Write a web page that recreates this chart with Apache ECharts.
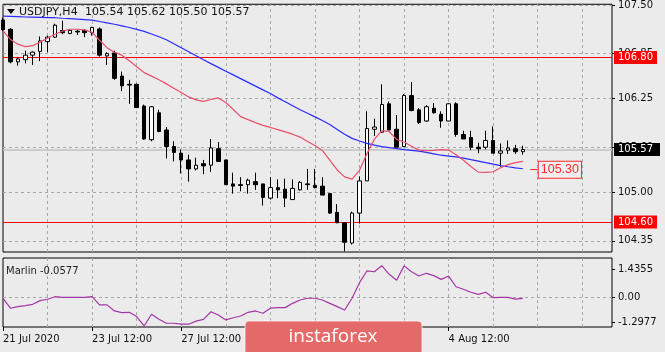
<!DOCTYPE html>
<html><head><meta charset="utf-8">
<script src="https://cdn.jsdelivr.net/npm/echarts@6/dist/echarts.min.js"></script>
<style>html,body{margin:0;padding:0;background:#ebebeb}#c{width:665px;height:352px}</style>
</head><body><div id="c"></div>
<script>
// H4 bars, 21 Jul 2020 12:00 onward
const opens  = [107.30,107.175,106.74,106.77,106.83,106.88,107.01,107.07,107.16,107.12,107.15,107.16,107.13,107.18,106.82,106.86,106.55,106.44,106.44,106.15,105.70,106.06,105.83,105.61,105.52,105.43,105.31,105.38,105.36,105.58,105.43,105.11,105.10,105.10,105.14,105.11,104.92,105.06,105.04,104.90,105.03,105.11,105.09,105.08,104.98,104.73,104.59,104.32,104.72,105.15,105.84,105.80,106.18,105.84,105.61,106.29,106.10,105.95,106.12,106.04,105.95,106.18,105.77,105.73,105.60,105.60,105.69,105.52,105.56,105.58,105.54];
const highs  = [107.33,107.19,106.80,106.89,106.88,107.08,107.09,107.25,107.29,107.17,107.17,107.18,107.21,107.20,106.87,106.89,106.61,106.50,106.45,106.17,106.15,106.10,105.87,105.68,105.57,105.50,105.46,105.43,105.71,105.67,105.43,105.26,105.20,105.18,105.26,105.11,105.20,105.17,105.18,105.17,105.15,105.31,105.31,105.20,104.98,104.84,104.59,104.74,105.21,106.08,105.98,106.44,106.21,106.03,106.31,106.47,106.12,106.16,106.19,106.08,106.19,106.20,105.82,105.82,105.66,105.82,105.88,105.65,105.69,105.63,105.62];
const lows   = [107.15,106.72,106.69,106.72,106.70,106.75,106.87,107.06,107.11,107.11,107.10,107.07,107.09,106.81,106.70,106.50,106.35,106.18,106.13,105.70,105.68,105.80,105.45,105.41,105.25,105.14,105.29,105.24,105.27,105.41,105.10,104.98,105.01,104.98,105.03,104.82,104.90,104.92,104.80,104.90,105.02,105.03,105.05,104.96,104.71,104.59,104.21,104.30,104.58,105.15,105.75,105.79,105.83,105.60,105.60,106.08,105.91,105.94,106.05,105.86,105.95,105.74,105.71,105.56,105.52,105.57,105.52,105.34,105.51,105.51,105.50];
const closes = [107.17,106.74,106.78,106.83,106.87,107.02,107.07,107.23,107.13,107.16,107.14,107.13,107.20,106.83,106.85,106.52,106.42,106.43,106.13,105.71,106.14,105.81,105.61,105.53,105.43,105.31,105.36,105.35,105.59,105.41,105.10,105.08,105.09,105.16,105.10,104.93,105.06,105.03,104.92,105.05,105.13,105.10,105.06,104.96,104.72,104.59,104.33,104.72,105.15,105.85,105.87,106.17,105.83,105.60,106.29,106.09,105.93,106.14,106.06,105.95,106.18,105.77,105.71,105.60,105.58,105.69,105.52,105.55,105.59,105.54,105.57];
const maSlow = [107.351,107.348,107.345,107.340,107.338,107.335,107.332,107.330,107.323,107.317,107.311,107.305,107.297,107.280,107.262,107.243,107.221,107.199,107.174,107.147,107.112,107.075,107.036,106.982,106.929,106.875,106.822,106.768,106.717,106.667,106.616,106.566,106.516,106.466,106.416,106.366,106.317,106.259,106.208,106.154,106.100,106.053,106.005,105.957,105.904,105.838,105.772,105.718,105.683,105.651,105.629,105.609,105.595,105.582,105.568,105.558,105.547,105.530,105.512,105.493,105.482,105.470,105.454,105.434,105.414,105.393,105.374,105.354,105.339,105.325,105.312];
const maFast = [107.154,107.040,106.977,106.944,106.956,107.004,107.056,107.109,107.150,107.176,107.176,107.168,107.135,107.029,106.930,106.869,106.830,106.755,106.674,106.597,106.550,106.502,106.446,106.389,106.332,106.272,106.233,106.213,106.238,106.259,106.197,106.104,106.009,105.968,105.928,105.892,105.864,105.834,105.804,105.774,105.735,105.676,105.622,105.557,105.428,105.296,105.204,105.174,105.292,105.514,105.705,105.821,105.807,105.704,105.669,105.612,105.561,105.555,105.559,105.568,105.562,105.499,105.425,105.343,105.267,105.263,105.272,105.326,105.368,105.393,105.410];
const marlin = [-0.05,-0.56,-0.48,-0.43,-0.36,-0.17,-0.10,0.03,0.00,0.00,0.00,0.00,0.03,-0.39,-0.39,-0.70,-0.79,-0.77,-0.99,-1.47,-0.87,-1.13,-1.33,-1.33,-1.38,-1.38,-1.22,-1.13,-0.74,-0.91,-1.16,-1.05,-0.96,-0.77,-0.70,-0.82,-0.56,-0.53,-0.53,-0.31,-0.14,-0.05,-0.05,-0.14,-0.31,-0.48,-0.65,-0.05,0.75,1.35,1.31,1.62,1.18,0.87,1.61,1.31,1.09,1.23,1.11,0.92,1.09,0.54,0.41,0.26,0.15,0.26,-0.02,0.00,0.00,-0.09,-0.0577];
const tradingDays = ['21 Jul','22 Jul','23 Jul','24 Jul','27 Jul','28 Jul','29 Jul','30 Jul','31 Jul','3 Aug','4 Aug','5 Aug','6 Aug','7 Aug','10 Aug'];
const barHours = ['00:00','04:00','08:00','12:00','16:00','20:00'];
const tickIndex = [0,12,24,36,48,60];
const tickText = ['21 Jul 2020','23 Jul 12:00','27 Jul 12:00','29 Jul 12:00','31 Jul 12:00','4 Aug 12:00'];
const gridCols = [6,12,18,24,30,36,42,48,54,60,66,72,78];
const priceTicks = [107.50,106.85,106.25,105.60,105.00,104.35];
const marlinTicks = [1.4355,0,-1.2977];
const resistance = 106.80, support = 104.60, lastPrice = 105.57, target = 105.30;
const titleText = ['USDJPY,H4','105.54 105.62 105.50 105.57'];
const marlinLabel = 'Marlin -0.0577';

const categories = [];
tradingDays.forEach(d => barHours.forEach(h => categories.push(d + ' ' + h)));
const slots = categories.slice(3, 3 + 83);
const candles = opens.map((o, i) => [o, closes[i], lows[i], highs[i]]);

const FONT = 'DejaVu Sans';
const GRIDC = '#a9a9a9';
const dash = {color: GRIDC, type: [3, 3], width: 1};
const vLines = gridCols.map(c => ({xAxis: c, lineStyle: dash, label: {show: false}}));
const hLines = priceTicks.map(p => ({yAxis: p, lineStyle: dash, label: {show: false}}));

const chart = echarts.init(document.getElementById('c'), null, {renderer: 'canvas'});
chart.setOption({
  animation: false,
  backgroundColor: '#ebebeb',
  grid: [
    {left: 3, right: 53, top: 3, height: 249, show: true, borderColor: '#000', borderWidth: 1, backgroundColor: 'transparent'},
    {left: 3, right: 53, top: 258, height: 69, show: true, borderColor: '#000', borderWidth: 1, backgroundColor: 'transparent'}
  ],
  xAxis: [
    {gridIndex: 0, type: 'category', data: slots, boundaryGap: false,
     axisLine: {show: false, onZero: false}, axisTick: {show: false}, axisLabel: {show: false}, splitLine: {show: false}},
    {gridIndex: 1, type: 'category', data: slots, boundaryGap: false, position: 'bottom',
     axisLine: {show: false, onZero: false},
     axisTick: {show: true, interval: (i) => tickIndex.includes(i), length: 4, lineStyle: {color: '#000'}},
     axisLabel: {show: true, interval: (i) => tickIndex.includes(i), formatter: (v, i) => tickText[tickIndex.indexOf(i)],
       align: 'left', margin: 7, fontSize: 10, fontFamily: FONT, color: '#111'},
     splitLine: {show: false}}
  ],
  yAxis: [
    {gridIndex: 0, type: 'value', position: 'right', min: 104.20, max: 107.51, scale: true,
     axisLine: {show: false},
     axisTick: {show: true, customValues: priceTicks, length: 3, lineStyle: {color: '#000'}},
     axisLabel: {customValues: priceTicks, formatter: v => v.toFixed(2), margin: 6, fontSize: 10, fontFamily: FONT, color: '#111'},
     splitLine: {show: false}},
    {gridIndex: 1, type: 'value', position: 'right', min: -1.523, max: 2.015,
     axisLine: {show: false},
     axisTick: {show: true, customValues: marlinTicks, length: 3, lineStyle: {color: '#000'}},
     axisLabel: {customValues: marlinTicks, formatter: v => v === 0 ? '0.00' : String(v), margin: 6, fontSize: 10, fontFamily: FONT, color: '#111'},
     splitLine: {show: false}}
  ],
  series: [
    {type: 'line', xAxisIndex: 0, yAxisIndex: 0, data: [], symbol: 'none',
     markLine: {silent: true, symbol: ['none', 'none'], z: 1, animation: false,
       label: {show: true, position: 'end', distance: 2, fontSize: 10, fontFamily: FONT, padding: [2, 4, 1, 4]},
       data: vLines.concat(hLines).concat([
         {yAxis: lastPrice, lineStyle: {color: '#c2c2c2', width: 1.5, type: 'solid'},
          label: {formatter: lastPrice.toFixed(2), backgroundColor: '#000', color: '#fff', padding: [2, 7, 1, 4]}},
         {yAxis: resistance, lineStyle: {color: '#ff0000', width: 1, type: 'solid'},
          label: {formatter: resistance.toFixed(2), backgroundColor: '#ff0000', color: '#fff'}},
         {yAxis: support, lineStyle: {color: '#ff0000', width: 1, type: 'solid'},
          label: {formatter: support.toFixed(2), backgroundColor: '#ff0000', color: '#fff'}},
         [{coord: [71.1, target], lineStyle: {color: '#ff2a2a', width: 1, type: 'solid'},
           label: {formatter: target.toFixed(2), position: 'end', distance: 1, color: '#ff2a2a', backgroundColor: '#efefef',
             borderColor: '#ff2a2a', borderWidth: 1, padding: [2, 2, 1, 2], fontSize: 12.5, fontFamily: 'Liberation Sans'}},
          {coord: [72.2, target]}]
       ])}},
    {type: 'candlestick', xAxisIndex: 0, yAxisIndex: 0, data: candles, barWidth: 4, z: 2,
     itemStyle: {color: '#ffffff', color0: '#000000', borderColor: '#000000', borderColor0: '#000000', borderWidth: 1}},
    {type: 'line', xAxisIndex: 0, yAxisIndex: 0, data: maSlow, symbol: 'none', z: 3,
     lineStyle: {color: '#2b2bff', width: 1.2}},
    {type: 'line', xAxisIndex: 0, yAxisIndex: 0, data: maFast, symbol: 'none', z: 3,
     lineStyle: {color: '#e8506e', width: 1.2}},
    {type: 'line', xAxisIndex: 1, yAxisIndex: 1, data: marlin, symbol: 'none', z: 3,
     lineStyle: {color: '#a536a5', width: 1.2},
     markLine: {silent: true, symbol: ['none', 'none'], z: 1, label: {show: false},
       data: gridCols.map(c => ({xAxis: c, lineStyle: dash})).concat([{yAxis: 0, lineStyle: dash}])}}
  ],
  graphic: [
    {type: 'polygon', shape: {points: [[7, 9], [15, 9], [11, 14]]}, style: {fill: '#000'}, z: 10},
    {type: 'text', x: 19, y: 12, style: {text: titleText[0], font: '11px "DejaVu Sans"', fill: '#111', textVerticalAlign: 'middle'}, z: 10},
    {type: 'text', x: 85, y: 12, style: {text: titleText[1], font: '11px "DejaVu Sans"', fill: '#111', textVerticalAlign: 'middle'}, z: 10},
    {type: 'text', x: 6, y: 271, style: {text: marlinLabel, font: '10px "DejaVu Sans"', fill: '#222', textVerticalAlign: 'middle'}, z: 10},
    {type: 'rect', shape: {x: 245, y: 321, width: 177, height: 40, r: 4}, style: {fill: '#e46a6a', stroke: 'rgba(255,255,255,0.7)', lineWidth: 1}, z: 20},
    {type: 'text', x: 333, y: 337, style: {text: 'instaforex', font: '19px "Open Sans"', fill: '#ffffff', textAlign: 'center', textVerticalAlign: 'middle'}, z: 21}
  ]
});
</script></body></html>
